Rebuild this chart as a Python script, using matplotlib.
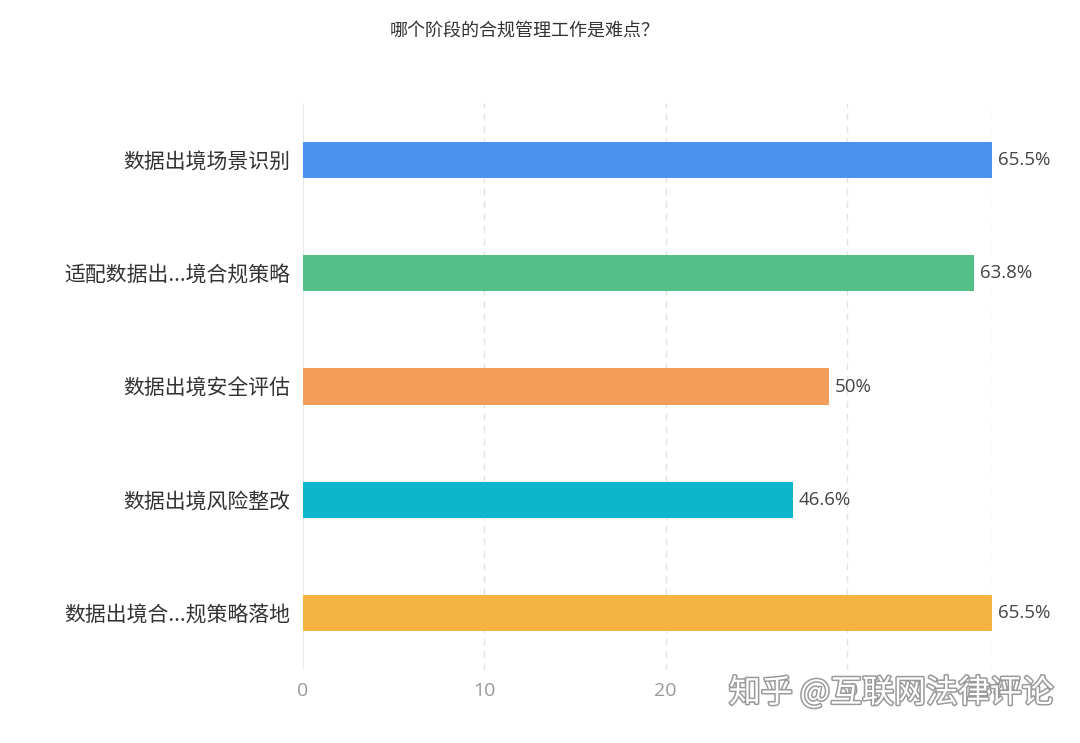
import matplotlib
matplotlib.use("Agg")
import matplotlib.pyplot as plt
import matplotlib.patheffects as pe

plt.rcParams['font.family'] = ['Noto Sans CJK SC', 'DejaVu Sans']

# ========== 数据 ==========
TITLE = "哪个阶段的合规管理工作是难点？"
CATEGORIES = ["数据出境场景识别", "适配数据出...境合规策略", "数据出境安全评估",
              "数据出境风险整改", "数据出境合...规策略落地"]
COUNTS = [38, 37, 29, 27, 38]
PERCENT_LABELS = ["65.5%", "63.8%", "50%", "46.6%", "65.5%"]
COLORS = ["#4b92ee", "#54bf86", "#f59e5a", "#0db5cd", "#f5b342"]
X_TICKS = [0, 10, 20, 30, 38]
WATERMARK = "知乎 @互联网法律评论"


def main():
    fig = plt.figure(figsize=(10.8, 7.43), dpi=100)
    ax = fig.add_axes([0.2806, 0.0983, 0.9185 - 0.2806, 0.861 - 0.0983])

    y_pos = list(range(len(CATEGORIES)))
    ax.barh(y_pos, COUNTS, height=0.32, color=COLORS, zorder=3)

    for y, v, lab in zip(y_pos, COUNTS, PERCENT_LABELS):
        ax.annotate(lab, (v, y), xytext=(4.5, 0), textcoords='offset points',
                    va='center', ha='left', fontsize=13.5, color='#444444',
                    family=['Open Sans', 'DejaVu Sans'])

    ax.set_xlim(0, 38)
    ax.set_ylim(len(CATEGORIES) - 0.5, -0.5)
    ax.set_yticks(y_pos)
    ax.set_yticklabels(CATEGORIES, fontsize=15, color='#333333')
    ax.set_xticks(X_TICKS)
    ax.set_xticklabels([str(t) for t in X_TICKS], fontsize=14, color='#999999',
                       family=['Open Sans', 'DejaVu Sans'])
    ax.tick_params(axis='both', length=0)
    ax.tick_params(axis='x', pad=9)
    ax.tick_params(axis='y', pad=9)

    for t in X_TICKS[1:]:
        ax.axvline(t, color='#e3e3e3', linestyle=(0, (5, 4)), linewidth=1, zorder=1)
    ax.axvline(0, color='#e6e6e6', linewidth=1.2, zorder=2)

    for s in ax.spines.values():
        s.set_visible(False)

    fig.text(0.4861, 0.958, TITLE, ha='center', va='center', fontsize=13, color='#333333')

    fig.text(0.8255, 0.0673, WATERMARK, ha='center', va='center', fontsize=23,
             color='white', zorder=10,
             path_effects=[pe.withStroke(linewidth=2.2, foreground='#9a9a9a')])

    fig.savefig("out.png", dpi=100, facecolor='white')
    plt.close(fig)


if __name__ == "__main__":
    main()
